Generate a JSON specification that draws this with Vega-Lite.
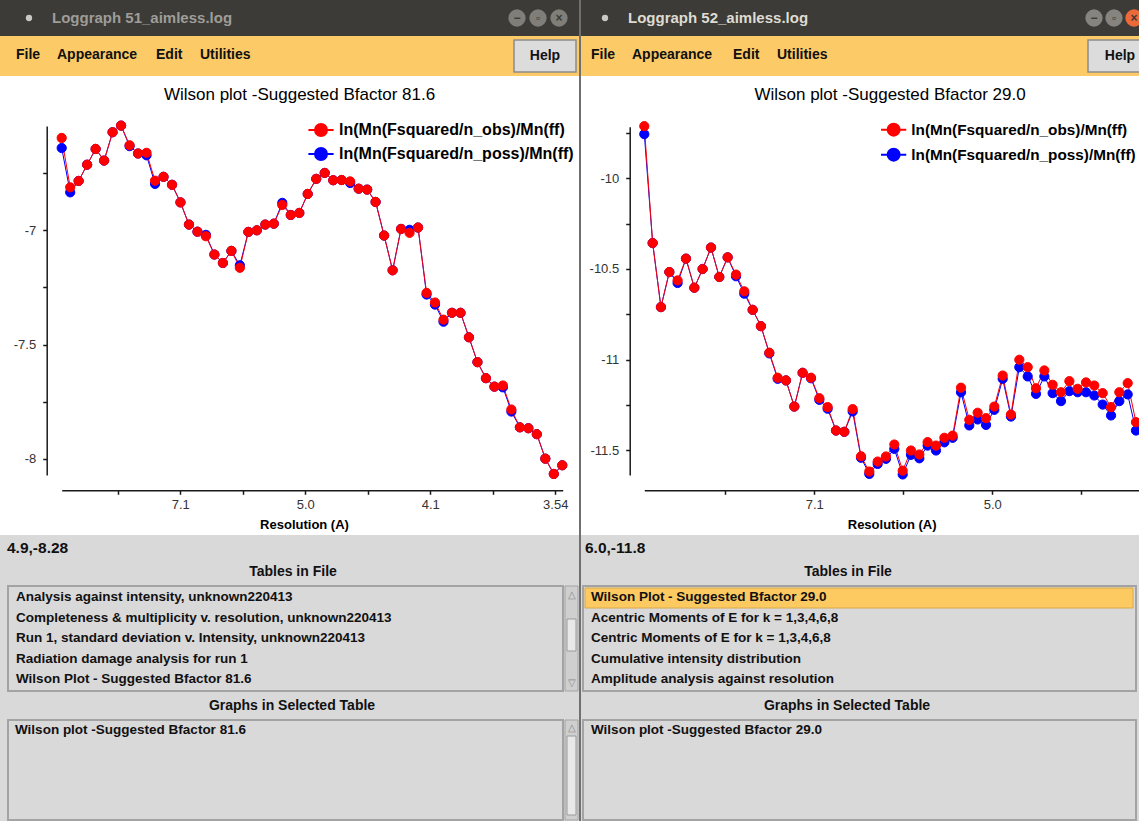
{
  "$schema": "https://vega.github.io/schema/vega-lite/v6.json",
  "padding": 0,
  "background": "#707070",
  "spacing": 2,
  "resolve": {"scale": {"color": "independent", "fill": "independent", "stroke": "independent"}, "legend": {"color": "independent", "fill": "independent", "stroke": "independent"}},
  "config": {
    "view": {"stroke": null},
    "font": "Liberation Sans",
    "axis": {"grid": false, "domainColor": "#1a1a1a", "domainWidth": 1.5, "tickColor": "#1a1a1a", "tickWidth": 1.5, "tickSize": 4, "labelFont": "Liberation Sans", "labelFontSize": 13, "labelColor": "#333333", "labelFlush": false, "labelOverlap": false, "titleFont": "Liberation Sans", "titleFontSize": 13, "titleFontWeight": "bold", "titleColor": "#000000"},
    "legend": {"title": null, "symbolType": "M-2.1,0L2.1,0M-1,0A1,1,0,1,1,1,0A1,1,0,1,1,-1,0Z", "symbolSize": 144, "symbolStrokeWidth": 2, "symbolOpacity": 1, "labelFontWeight": "bold", "labelFont": "Liberation Sans", "labelColor": "#000000", "labelLimit": 400, "labelOffset": 10, "rowPadding": 4, "padding": 0},
    "text": {"font": "Liberation Sans"}
  },
  "datasets": {
    "left": [
      {"x":0.00104,"y":-6.640,"s":"n_poss"},{"x":0.00240,"y":-6.834,"s":"n_poss"},{"x":0.00375,"y":-6.784,"s":"n_poss"},{"x":0.00511,"y":-6.713,"s":"n_poss"},{"x":0.00647,"y":-6.644,"s":"n_poss"},{"x":0.00783,"y":-6.695,"s":"n_poss"},{"x":0.00918,"y":-6.571,"s":"n_poss"},{"x":0.01054,"y":-6.542,"s":"n_poss"},{"x":0.01190,"y":-6.632,"s":"n_poss"},{"x":0.01326,"y":-6.664,"s":"n_poss"},
      {"x":0.01461,"y":-6.672,"s":"n_poss"},{"x":0.01597,"y":-6.797,"s":"n_poss"},{"x":0.01733,"y":-6.766,"s":"n_poss"},{"x":0.01869,"y":-6.801,"s":"n_poss"},{"x":0.02004,"y":-6.878,"s":"n_poss"},{"x":0.02140,"y":-6.975,"s":"n_poss"},{"x":0.02276,"y":-7.006,"s":"n_poss"},{"x":0.02411,"y":-7.020,"s":"n_poss"},{"x":0.02547,"y":-7.106,"s":"n_poss"},{"x":0.02683,"y":-7.143,"s":"n_poss"},
      {"x":0.02819,"y":-7.090,"s":"n_poss"},{"x":0.02954,"y":-7.153,"s":"n_poss"},{"x":0.03090,"y":-7.007,"s":"n_poss"},{"x":0.03226,"y":-7.000,"s":"n_poss"},{"x":0.03362,"y":-6.975,"s":"n_poss"},{"x":0.03497,"y":-6.971,"s":"n_poss"},{"x":0.03633,"y":-6.880,"s":"n_poss"},{"x":0.03769,"y":-6.933,"s":"n_poss"},{"x":0.03905,"y":-6.924,"s":"n_poss"},{"x":0.04040,"y":-6.841,"s":"n_poss"},
      {"x":0.04176,"y":-6.775,"s":"n_poss"},{"x":0.04312,"y":-6.749,"s":"n_poss"},{"x":0.04448,"y":-6.781,"s":"n_poss"},{"x":0.04583,"y":-6.780,"s":"n_poss"},{"x":0.04719,"y":-6.793,"s":"n_poss"},{"x":0.04855,"y":-6.818,"s":"n_poss"},{"x":0.04991,"y":-6.822,"s":"n_poss"},{"x":0.05126,"y":-6.876,"s":"n_poss"},{"x":0.05262,"y":-7.023,"s":"n_poss"},{"x":0.05398,"y":-7.175,"s":"n_poss"},
      {"x":0.05533,"y":-6.994,"s":"n_poss"},{"x":0.05669,"y":-6.998,"s":"n_poss"},{"x":0.05805,"y":-6.988,"s":"n_poss"},{"x":0.05941,"y":-7.281,"s":"n_poss"},{"x":0.06076,"y":-7.325,"s":"n_poss"},{"x":0.06212,"y":-7.400,"s":"n_poss"},{"x":0.06348,"y":-7.361,"s":"n_poss"},{"x":0.06484,"y":-7.361,"s":"n_poss"},{"x":0.06619,"y":-7.468,"s":"n_poss"},{"x":0.06755,"y":-7.577,"s":"n_poss"},
      {"x":0.06891,"y":-7.647,"s":"n_poss"},{"x":0.07027,"y":-7.684,"s":"n_poss"},{"x":0.07162,"y":-7.687,"s":"n_poss"},{"x":0.07298,"y":-7.793,"s":"n_poss"},{"x":0.07434,"y":-7.862,"s":"n_poss"},{"x":0.07570,"y":-7.866,"s":"n_poss"},{"x":0.07705,"y":-7.892,"s":"n_poss"},{"x":0.07841,"y":-7.999,"s":"n_poss"},{"x":0.07977,"y":-8.066,"s":"n_poss"},{"x":0.08112,"y":-8.028,"s":"n_poss"},
      {"x":0.00104,"y":-6.596,"s":"n_obs"},{"x":0.00240,"y":-6.812,"s":"n_obs"},{"x":0.00375,"y":-6.784,"s":"n_obs"},{"x":0.00511,"y":-6.713,"s":"n_obs"},{"x":0.00647,"y":-6.644,"s":"n_obs"},{"x":0.00783,"y":-6.695,"s":"n_obs"},{"x":0.00918,"y":-6.571,"s":"n_obs"},{"x":0.01054,"y":-6.542,"s":"n_obs"},{"x":0.01190,"y":-6.628,"s":"n_obs"},{"x":0.01326,"y":-6.664,"s":"n_obs"},
      {"x":0.01461,"y":-6.661,"s":"n_obs"},{"x":0.01597,"y":-6.783,"s":"n_obs"},{"x":0.01733,"y":-6.766,"s":"n_obs"},{"x":0.01869,"y":-6.801,"s":"n_obs"},{"x":0.02004,"y":-6.878,"s":"n_obs"},{"x":0.02140,"y":-6.975,"s":"n_obs"},{"x":0.02276,"y":-7.006,"s":"n_obs"},{"x":0.02411,"y":-7.026,"s":"n_obs"},{"x":0.02547,"y":-7.106,"s":"n_obs"},{"x":0.02683,"y":-7.143,"s":"n_obs"},
      {"x":0.02819,"y":-7.090,"s":"n_obs"},{"x":0.02954,"y":-7.164,"s":"n_obs"},{"x":0.03090,"y":-7.007,"s":"n_obs"},{"x":0.03226,"y":-7.000,"s":"n_obs"},{"x":0.03362,"y":-6.975,"s":"n_obs"},{"x":0.03497,"y":-6.971,"s":"n_obs"},{"x":0.03633,"y":-6.889,"s":"n_obs"},{"x":0.03769,"y":-6.933,"s":"n_obs"},{"x":0.03905,"y":-6.924,"s":"n_obs"},{"x":0.04040,"y":-6.841,"s":"n_obs"},
      {"x":0.04176,"y":-6.775,"s":"n_obs"},{"x":0.04312,"y":-6.749,"s":"n_obs"},{"x":0.04448,"y":-6.781,"s":"n_obs"},{"x":0.04583,"y":-6.780,"s":"n_obs"},{"x":0.04719,"y":-6.786,"s":"n_obs"},{"x":0.04855,"y":-6.818,"s":"n_obs"},{"x":0.04991,"y":-6.822,"s":"n_obs"},{"x":0.05126,"y":-6.876,"s":"n_obs"},{"x":0.05262,"y":-7.023,"s":"n_obs"},{"x":0.05398,"y":-7.175,"s":"n_obs"},
      {"x":0.05533,"y":-6.994,"s":"n_obs"},{"x":0.05669,"y":-7.011,"s":"n_obs"},{"x":0.05805,"y":-6.988,"s":"n_obs"},{"x":0.05941,"y":-7.274,"s":"n_obs"},{"x":0.06076,"y":-7.316,"s":"n_obs"},{"x":0.06212,"y":-7.391,"s":"n_obs"},{"x":0.06348,"y":-7.361,"s":"n_obs"},{"x":0.06484,"y":-7.361,"s":"n_obs"},{"x":0.06619,"y":-7.468,"s":"n_obs"},{"x":0.06755,"y":-7.577,"s":"n_obs"},
      {"x":0.06891,"y":-7.647,"s":"n_obs"},{"x":0.07027,"y":-7.684,"s":"n_obs"},{"x":0.07162,"y":-7.679,"s":"n_obs"},{"x":0.07298,"y":-7.784,"s":"n_obs"},{"x":0.07434,"y":-7.862,"s":"n_obs"},{"x":0.07570,"y":-7.866,"s":"n_obs"},{"x":0.07705,"y":-7.892,"s":"n_obs"},{"x":0.07841,"y":-7.999,"s":"n_obs"},{"x":0.07977,"y":-8.066,"s":"n_obs"},{"x":0.08112,"y":-8.028,"s":"n_obs"}
    ],
    "right": [
      {"x":0.00092,"y":-9.757,"s":"n_poss"},{"x":0.00186,"y":-10.357,"s":"n_poss"},{"x":0.00279,"y":-10.710,"s":"n_poss"},{"x":0.00373,"y":-10.517,"s":"n_poss"},{"x":0.00466,"y":-10.577,"s":"n_poss"},{"x":0.00560,"y":-10.443,"s":"n_poss"},{"x":0.00654,"y":-10.603,"s":"n_poss"},{"x":0.00747,"y":-10.500,"s":"n_poss"},{"x":0.00841,"y":-10.382,"s":"n_poss"},{"x":0.00934,"y":-10.544,"s":"n_poss"},
      {"x":0.01028,"y":-10.436,"s":"n_poss"},{"x":0.01122,"y":-10.540,"s":"n_poss"},{"x":0.01215,"y":-10.636,"s":"n_poss"},{"x":0.01309,"y":-10.725,"s":"n_poss"},{"x":0.01402,"y":-10.815,"s":"n_poss"},{"x":0.01496,"y":-10.965,"s":"n_poss"},{"x":0.01590,"y":-11.105,"s":"n_poss"},{"x":0.01683,"y":-11.114,"s":"n_poss"},{"x":0.01777,"y":-11.258,"s":"n_poss"},{"x":0.01870,"y":-11.072,"s":"n_poss"},
      {"x":0.01964,"y":-11.102,"s":"n_poss"},{"x":0.02058,"y":-11.221,"s":"n_poss"},{"x":0.02151,"y":-11.270,"s":"n_poss"},{"x":0.02245,"y":-11.390,"s":"n_poss"},{"x":0.02338,"y":-11.397,"s":"n_poss"},{"x":0.02432,"y":-11.285,"s":"n_poss"},{"x":0.02526,"y":-11.540,"s":"n_poss"},{"x":0.02619,"y":-11.629,"s":"n_poss"},{"x":0.02713,"y":-11.574,"s":"n_poss"},{"x":0.02806,"y":-11.546,"s":"n_poss"},
      {"x":0.02900,"y":-11.491,"s":"n_poss"},{"x":0.02994,"y":-11.632,"s":"n_poss"},{"x":0.03087,"y":-11.524,"s":"n_poss"},{"x":0.03181,"y":-11.543,"s":"n_poss"},{"x":0.03274,"y":-11.473,"s":"n_poss"},{"x":0.03368,"y":-11.500,"s":"n_poss"},{"x":0.03462,"y":-11.455,"s":"n_poss"},{"x":0.03555,"y":-11.430,"s":"n_poss"},{"x":0.03649,"y":-11.179,"s":"n_poss"},{"x":0.03742,"y":-11.362,"s":"n_poss"},
      {"x":0.03836,"y":-11.329,"s":"n_poss"},{"x":0.03930,"y":-11.359,"s":"n_poss"},{"x":0.04023,"y":-11.276,"s":"n_poss"},{"x":0.04117,"y":-11.105,"s":"n_poss"},{"x":0.04210,"y":-11.313,"s":"n_poss"},{"x":0.04304,"y":-11.041,"s":"n_poss"},{"x":0.04398,"y":-11.092,"s":"n_poss"},{"x":0.04491,"y":-11.188,"s":"n_poss"},{"x":0.04585,"y":-11.092,"s":"n_poss"},{"x":0.04678,"y":-11.184,"s":"n_poss"},
      {"x":0.04772,"y":-11.228,"s":"n_poss"},{"x":0.04866,"y":-11.173,"s":"n_poss"},{"x":0.04959,"y":-11.179,"s":"n_poss"},{"x":0.05053,"y":-11.179,"s":"n_poss"},{"x":0.05146,"y":-11.197,"s":"n_poss"},{"x":0.05240,"y":-11.247,"s":"n_poss"},{"x":0.05334,"y":-11.307,"s":"n_poss"},{"x":0.05427,"y":-11.228,"s":"n_poss"},{"x":0.05521,"y":-11.191,"s":"n_poss"},{"x":0.05614,"y":-11.390,"s":"n_poss"},
      {"x":0.00092,"y":-9.713,"s":"n_obs"},{"x":0.00186,"y":-10.357,"s":"n_obs"},{"x":0.00279,"y":-10.710,"s":"n_obs"},{"x":0.00373,"y":-10.517,"s":"n_obs"},{"x":0.00466,"y":-10.563,"s":"n_obs"},{"x":0.00560,"y":-10.443,"s":"n_obs"},{"x":0.00654,"y":-10.603,"s":"n_obs"},{"x":0.00747,"y":-10.500,"s":"n_obs"},{"x":0.00841,"y":-10.382,"s":"n_obs"},{"x":0.00934,"y":-10.544,"s":"n_obs"},
      {"x":0.01028,"y":-10.436,"s":"n_obs"},{"x":0.01122,"y":-10.531,"s":"n_obs"},{"x":0.01215,"y":-10.623,"s":"n_obs"},{"x":0.01309,"y":-10.725,"s":"n_obs"},{"x":0.01402,"y":-10.815,"s":"n_obs"},{"x":0.01496,"y":-10.961,"s":"n_obs"},{"x":0.01590,"y":-11.099,"s":"n_obs"},{"x":0.01683,"y":-11.114,"s":"n_obs"},{"x":0.01777,"y":-11.258,"s":"n_obs"},{"x":0.01870,"y":-11.072,"s":"n_obs"},
      {"x":0.01964,"y":-11.099,"s":"n_obs"},{"x":0.02058,"y":-11.212,"s":"n_obs"},{"x":0.02151,"y":-11.261,"s":"n_obs"},{"x":0.02245,"y":-11.390,"s":"n_obs"},{"x":0.02338,"y":-11.397,"s":"n_obs"},{"x":0.02432,"y":-11.272,"s":"n_obs"},{"x":0.02526,"y":-11.532,"s":"n_obs"},{"x":0.02619,"y":-11.616,"s":"n_obs"},{"x":0.02713,"y":-11.561,"s":"n_obs"},{"x":0.02806,"y":-11.533,"s":"n_obs"},
      {"x":0.02900,"y":-11.467,"s":"n_obs"},{"x":0.02994,"y":-11.611,"s":"n_obs"},{"x":0.03087,"y":-11.500,"s":"n_obs"},{"x":0.03181,"y":-11.522,"s":"n_obs"},{"x":0.03274,"y":-11.454,"s":"n_obs"},{"x":0.03368,"y":-11.473,"s":"n_obs"},{"x":0.03462,"y":-11.430,"s":"n_obs"},{"x":0.03555,"y":-11.418,"s":"n_obs"},{"x":0.03649,"y":-11.154,"s":"n_obs"},{"x":0.03742,"y":-11.331,"s":"n_obs"},
      {"x":0.03836,"y":-11.292,"s":"n_obs"},{"x":0.03930,"y":-11.322,"s":"n_obs"},{"x":0.04023,"y":-11.258,"s":"n_obs"},{"x":0.04117,"y":-11.087,"s":"n_obs"},{"x":0.04210,"y":-11.302,"s":"n_obs"},{"x":0.04304,"y":-11.000,"s":"n_obs"},{"x":0.04398,"y":-11.041,"s":"n_obs"},{"x":0.04491,"y":-11.157,"s":"n_obs"},{"x":0.04585,"y":-11.059,"s":"n_obs"},{"x":0.04678,"y":-11.138,"s":"n_obs"},
      {"x":0.04772,"y":-11.179,"s":"n_obs"},{"x":0.04866,"y":-11.118,"s":"n_obs"},{"x":0.04959,"y":-11.160,"s":"n_obs"},{"x":0.05053,"y":-11.125,"s":"n_obs"},{"x":0.05146,"y":-11.142,"s":"n_obs"},{"x":0.05240,"y":-11.184,"s":"n_obs"},{"x":0.05334,"y":-11.261,"s":"n_obs"},{"x":0.05427,"y":-11.179,"s":"n_obs"},{"x":0.05521,"y":-11.129,"s":"n_obs"},{"x":0.05614,"y":-11.344,"s":"n_obs"}
    ]
  },
  "hconcat": [
    {
      "spacing": 0,
      "resolve": {"scale": {"color": "independent", "fill": "independent", "stroke": "independent"}, "legend": {"color": "independent", "fill": "independent", "stroke": "independent"}},
      "vconcat": [
        {
          "width": 579, "height": 36,
          "view": {"fill": "#3c3b37", "stroke": null},
          "layer": [
            {"data": {"values": [{"t": "Loggraph 51_aimless.log"}]}, "mark": {"type": "text", "align": "left", "baseline": "middle", "fontWeight": "bold", "fontSize": 15, "color": "#9e9d98"}, "encoding": {"x": {"value": 52}, "y": {"value": 18}, "text": {"field": "t"}}},
            {"data": {"values": [{"t": "icon"}]}, "mark": {"type": "circle", "size": 40, "color": "#c9c8c3", "opacity": 1}, "encoding": {"x": {"value": 29}, "y": {"value": 18}}},
            {"data": {"values": [{"b": "min", "g": "−"}, {"b": "max", "g": "▫"}, {"b": "close", "g": "×"}]},
             "layer": [
               {"mark": {"type": "circle", "size": 300, "opacity": 1, "clip": true, "color": "#7f7e79"}, "encoding": {"x": {"field": "b", "type": "nominal", "scale": {"type": "point", "domain": ["min", "max", "close"], "range": [517, 559], "padding": 0}, "axis": null}, "y": {"value": 18}}},
               {"mark": {"type": "text", "fontSize": 12, "fontWeight": "bold", "color": "#3c3b37", "baseline": "middle"}, "encoding": {"x": {"field": "b", "type": "nominal", "scale": {"type": "point", "domain": ["min", "max", "close"], "range": [517, 559], "padding": 0}, "axis": null}, "y": {"value": 18}, "text": {"field": "g"}}}
             ]}
          ]
        },
        {
          "width": 579, "height": 40,
          "view": {"fill": "#fcca66", "stroke": null},
          "layer": [
            {"data": {"values": [{"t": "File"}]}, "mark": {"type": "text", "align": "left", "baseline": "middle", "fontWeight": "bold", "fontSize": 14, "color": "#111111"}, "encoding": {"x": {"value": 16}, "y": {"value": 19}, "text": {"field": "t"}}},
            {"data": {"values": [{"t": "Appearance"}]}, "mark": {"type": "text", "align": "left", "baseline": "middle", "fontWeight": "bold", "fontSize": 14, "color": "#111111"}, "encoding": {"x": {"value": 57}, "y": {"value": 19}, "text": {"field": "t"}}},
            {"data": {"values": [{"t": "Edit"}]}, "mark": {"type": "text", "align": "left", "baseline": "middle", "fontWeight": "bold", "fontSize": 14, "color": "#111111"}, "encoding": {"x": {"value": 156}, "y": {"value": 19}, "text": {"field": "t"}}},
            {"data": {"values": [{"t": "Utilities"}]}, "mark": {"type": "text", "align": "left", "baseline": "middle", "fontWeight": "bold", "fontSize": 14, "color": "#111111"}, "encoding": {"x": {"value": 200}, "y": {"value": 19}, "text": {"field": "t"}}},
            {"data": {"values": [{"t": "Help"}]}, "mark": {"type": "rect", "fill": "#dcdcdc", "stroke": "#8c8c8c", "strokeWidth": 1.5}, "encoding": {"x": {"value": 514}, "x2": {"value": 576}, "y": {"value": 4}, "y2": {"value": 36}}},
            {"data": {"values": [{"t": "Help"}]}, "mark": {"type": "text", "align": "center", "baseline": "middle", "fontWeight": "bold", "fontSize": 14, "color": "#111111"}, "encoding": {"x": {"value": 545}, "y": {"value": 20}, "text": {"field": "t"}}}
          ]
        },
        {
          "width": 579, "height": 459,
          "view": {"fill": "#ffffff", "stroke": null},
          "title": {"text": "Wilson plot -Suggested Bfactor 81.6", "offset": -28, "dx": 10, "fontSize": 17, "fontWeight": "normal", "color": "#000000", "font": "Liberation Sans"},
          "data": {"name": "left"},
          "encoding": {
            "x": {"field": "x", "type": "quantitative", "scale": {"domain": [0.00104, 0.08119], "range": [61.7, 562.7], "nice": false, "zero": false},
                  "axis": {"values": [0.01, 0.02, 0.03, 0.04, 0.05, 0.06, 0.07, 0.08], "labelExpr": "datum.value == 0.02 ? '7.1' : datum.value == 0.04 ? '5.0' : datum.value == 0.06 ? '4.1' : datum.value == 0.08 ? '3.54' : ''", "title": "Resolution (A)", "titleX": 304, "offset": -44.7, "labelPadding": 4, "titlePadding": 7}},
            "y": {"field": "y", "type": "quantitative", "scale": {"domain": [-8.0706, -6.5437], "range": [399, 50], "nice": false, "zero": false},
                  "axis": {"values": [-6.75, -7, -7.25, -7.5, -7.75, -8], "labelExpr": "datum.value % 0.5 == 0 ? '' + datum.value : ''", "title": null, "offset": -46.7, "labelPadding": 7}}
          },
          "layer": [
            {"mark": {"type": "line", "strokeWidth": 1, "clip": true},
             "encoding": {"stroke": {"field": "s", "type": "nominal", "scale": {"domain": ["n_obs", "n_poss"], "range": ["#ff0000", "#0000ff"]},
               "legend": {"orient": "none", "legendX": 313, "legendY": 46, "labelFontSize": 16, "symbolType": "M-2.1,0L2.1,0M-1,0A1,1,0,1,1,1,0A1,1,0,1,1,-1,0Z", "labelExpr": "'ln(Mn(Fsquared/' + datum.label + ')/Mn(ff)'"}}}},
            {"mark": {"type": "point", "filled": true, "size": 85, "strokeWidth": 1, "opacity": 1, "clip": true},
             "encoding": {
               "fill": {"field": "s", "type": "nominal", "scale": {"domain": ["n_obs", "n_poss"], "range": ["#ff0000", "#0000ff"]},
                 "legend": {"orient": "none", "legendX": 313, "legendY": 46, "labelFontSize": 16, "symbolType": "M-2.1,0L2.1,0M-1,0A1,1,0,1,1,1,0A1,1,0,1,1,-1,0Z", "labelExpr": "'ln(Mn(Fsquared/' + datum.label + ')/Mn(ff)'"}},
               "stroke": {"field": "s", "type": "nominal", "scale": {"domain": ["n_obs", "n_poss"], "range": ["#ff0000", "#0000ff"]},
                 "legend": {"orient": "none", "legendX": 313, "legendY": 46, "labelFontSize": 16, "symbolType": "M-2.1,0L2.1,0M-1,0A1,1,0,1,1,1,0A1,1,0,1,1,-1,0Z", "labelExpr": "'ln(Mn(Fsquared/' + datum.label + ')/Mn(ff)'"}}
             }}
          ]
        },
        {
          "width": 579, "height": 25,
          "view": {"fill": "#d9d9d9", "stroke": null},
          "data": {"values": [{"t": "4.9,-8.28"}]},
          "mark": {"type": "text", "align": "left", "baseline": "middle", "fontWeight": "bold", "fontSize": 15.5, "color": "#111111"},
          "encoding": {"x": {"value": 7}, "y": {"value": 13}, "text": {"field": "t"}}
        },
        {
          "width": 579, "height": 25,
          "view": {"fill": "#d9d9d9", "stroke": null},
          "data": {"values": [{"t": "Tables in File"}]},
          "mark": {"type": "text", "align": "center", "baseline": "middle", "fontWeight": "bold", "fontSize": 14, "color": "#111111"},
          "encoding": {"x": {"value": 293}, "y": {"value": 12}, "text": {"field": "t"}}
        },
        {
          "width": 579, "height": 108,
          "view": {"fill": "#d9d9d9", "stroke": null},
          "layer": [
            {"data": {"values": [{"t": "box"}]}, "mark": {"type": "rect", "fill": "#d9d9d9", "stroke": "#a3a3a3", "strokeWidth": 2}, "encoding": {"x": {"value": 8}, "x2": {"value": 563}, "y": {"value": 1}, "y2": {"value": 106}}},
            {"data": {"values": [{"t": "scroll"}]}, "mark": {"type": "rect", "fill": "#cfcfcf", "stroke": "#a3a3a3", "strokeWidth": 1}, "encoding": {"x": {"value": 565}, "x2": {"value": 578}, "y": {"value": 1}, "y2": {"value": 106}}},
            {"data": {"values": [{"t": "thumb"}]}, "mark": {"type": "rect", "fill": "#e8e8e8", "stroke": "#9a9a9a", "strokeWidth": 1}, "encoding": {"x": {"value": 567}, "x2": {"value": 576}, "y": {"value": 34}, "y2": {"value": 66}}},
            {"data": {"values": [{"g": "△"}]}, "mark": {"type": "text", "align": "center", "baseline": "middle", "fontSize": 10, "color": "#8a8a8a"}, "encoding": {"x": {"value": 571.5}, "y": {"value": 10}, "text": {"field": "g"}}},
            {"data": {"values": [{"g": "▽"}]}, "mark": {"type": "text", "align": "center", "baseline": "middle", "fontSize": 10, "color": "#8a8a8a"}, "encoding": {"x": {"value": 571.5}, "y": {"value": 98}, "text": {"field": "g"}}},
            {"data": {"values": [{"t": "Analysis against intensity, unknown220413"}, {"t": "Completeness & multiplicity v. resolution, unknown220413"}, {"t": "Run   1, standard deviation v. Intensity, unknown220413"}, {"t": "Radiation damage analysis for run   1"}, {"t": "Wilson Plot - Suggested Bfactor 81.6"}]},
             "mark": {"type": "text", "align": "left", "baseline": "middle", "fontWeight": "bold", "fontSize": 13.5, "color": "#111111"},
             "encoding": {"x": {"value": 16}, "y": {"field": "t", "type": "nominal", "sort": null, "scale": {"type": "point", "range": [12, 94], "padding": 0}, "axis": null}, "text": {"field": "t"}}}
          ]
        },
        {
          "width": 579, "height": 26,
          "view": {"fill": "#d9d9d9", "stroke": null},
          "data": {"values": [{"t": "Graphs in Selected Table"}]},
          "mark": {"type": "text", "align": "center", "baseline": "middle", "fontWeight": "bold", "fontSize": 14, "color": "#111111"},
          "encoding": {"x": {"value": 292}, "y": {"value": 13}, "text": {"field": "t"}}
        },
        {
          "width": 579, "height": 102,
          "view": {"fill": "#d9d9d9", "stroke": null},
          "layer": [
            {"data": {"values": [{"t": "box"}]}, "mark": {"type": "rect", "fill": "#d9d9d9", "stroke": "#a3a3a3", "strokeWidth": 2}, "encoding": {"x": {"value": 8}, "x2": {"value": 563}, "y": {"value": 1}, "y2": {"value": 101}}},
            {"data": {"values": [{"t": "scroll"}]}, "mark": {"type": "rect", "fill": "#cfcfcf", "stroke": "#a3a3a3", "strokeWidth": 1}, "encoding": {"x": {"value": 565}, "x2": {"value": 578}, "y": {"value": 1}, "y2": {"value": 101}}},
            {"data": {"values": [{"t": "thumb"}]}, "mark": {"type": "rect", "fill": "#e8e8e8", "stroke": "#9a9a9a", "strokeWidth": 1}, "encoding": {"x": {"value": 567}, "x2": {"value": 576}, "y": {"value": 17}, "y2": {"value": 96}}},
            {"data": {"values": [{"g": "△"}]}, "mark": {"type": "text", "align": "center", "baseline": "middle", "fontSize": 10, "color": "#8a8a8a"}, "encoding": {"x": {"value": 571.5}, "y": {"value": 9}, "text": {"field": "g"}}},
            {"data": {"values": [{"t": "Wilson plot -Suggested Bfactor 81.6"}]}, "mark": {"type": "text", "align": "left", "baseline": "middle", "fontWeight": "bold", "fontSize": 13.5, "color": "#111111"}, "encoding": {"x": {"value": 15}, "y": {"value": 11}, "text": {"field": "t"}}}
          ]
        }
      ]
    },
    {
      "spacing": 0,
      "resolve": {"scale": {"color": "independent", "fill": "independent", "stroke": "independent"}, "legend": {"color": "independent", "fill": "independent", "stroke": "independent"}},
      "vconcat": [
        {
          "width": 558, "height": 36,
          "view": {"fill": "#3c3b37", "stroke": null},
          "layer": [
            {"data": {"values": [{"t": "Loggraph 52_aimless.log"}]}, "mark": {"type": "text", "align": "left", "baseline": "middle", "fontWeight": "bold", "fontSize": 15, "color": "#dfdbd2"}, "encoding": {"x": {"value": 47}, "y": {"value": 18}, "text": {"field": "t"}}},
            {"data": {"values": [{"t": "icon"}]}, "mark": {"type": "circle", "size": 40, "color": "#c9c8c3", "opacity": 1}, "encoding": {"x": {"value": 24}, "y": {"value": 18}}},
            {"data": {"values": [{"b": "min", "g": "−"}, {"b": "max", "g": "▫"}, {"b": "close", "g": "×"}]},
             "layer": [
               {"mark": {"type": "circle", "size": 300, "opacity": 1, "clip": true}, "encoding": {"x": {"field": "b", "type": "nominal", "scale": {"type": "point", "domain": ["min", "max", "close"], "range": [513, 553], "padding": 0}, "axis": null}, "y": {"value": 18}, "color": {"field": "b", "type": "nominal", "scale": {"domain": ["min", "max", "close"], "range": ["#85847e", "#85847e", "#ec6a3a"]}, "legend": null}}},
               {"mark": {"type": "text", "fontSize": 12, "fontWeight": "bold", "color": "#3c3b37", "baseline": "middle", "clip": true}, "encoding": {"x": {"field": "b", "type": "nominal", "scale": {"type": "point", "domain": ["min", "max", "close"], "range": [513, 553], "padding": 0}, "axis": null}, "y": {"value": 18}, "text": {"field": "g"}}}
             ]}
          ]
        },
        {
          "width": 558, "height": 40,
          "view": {"fill": "#fcca66", "stroke": null},
          "layer": [
            {"data": {"values": [{"t": "File"}]}, "mark": {"type": "text", "align": "left", "baseline": "middle", "fontWeight": "bold", "fontSize": 14, "color": "#111111"}, "encoding": {"x": {"value": 10}, "y": {"value": 19}, "text": {"field": "t"}}},
            {"data": {"values": [{"t": "Appearance"}]}, "mark": {"type": "text", "align": "left", "baseline": "middle", "fontWeight": "bold", "fontSize": 14, "color": "#111111"}, "encoding": {"x": {"value": 51}, "y": {"value": 19}, "text": {"field": "t"}}},
            {"data": {"values": [{"t": "Edit"}]}, "mark": {"type": "text", "align": "left", "baseline": "middle", "fontWeight": "bold", "fontSize": 14, "color": "#111111"}, "encoding": {"x": {"value": 152}, "y": {"value": 19}, "text": {"field": "t"}}},
            {"data": {"values": [{"t": "Utilities"}]}, "mark": {"type": "text", "align": "left", "baseline": "middle", "fontWeight": "bold", "fontSize": 14, "color": "#111111"}, "encoding": {"x": {"value": 196}, "y": {"value": 19}, "text": {"field": "t"}}},
            {"data": {"values": [{"t": "Help"}]}, "mark": {"type": "rect", "fill": "#dcdcdc", "stroke": "#8c8c8c", "strokeWidth": 1.5, "clip": true}, "encoding": {"x": {"value": 507}, "x2": {"value": 570}, "y": {"value": 4}, "y2": {"value": 36}}},
            {"data": {"values": [{"t": "Help"}]}, "mark": {"type": "text", "align": "center", "baseline": "middle", "fontWeight": "bold", "fontSize": 14, "color": "#111111"}, "encoding": {"x": {"value": 539}, "y": {"value": 20}, "text": {"field": "t"}}}
          ]
        },
        {
          "width": 558, "height": 459,
          "view": {"fill": "#ffffff", "stroke": null},
          "title": {"text": "Wilson plot -Suggested Bfactor 29.0", "offset": -28, "dx": 30, "fontSize": 17, "fontWeight": "normal", "color": "#000000", "font": "Liberation Sans"},
          "data": {"name": "right"},
          "encoding": {
            "x": {"field": "x", "type": "quantitative", "scale": {"domain": [0.00092, 0.05648], "range": [63.3, 558], "nice": false, "zero": false},
                  "axis": {"values": [0.01, 0.02, 0.03, 0.04, 0.05], "labelExpr": "datum.value == 0.02 ? '7.1' : datum.value == 0.04 ? '5.0' : ''", "title": "Resolution (A)", "offset": -44.7, "labelPadding": 4, "titlePadding": 7}},
            "y": {"field": "y", "type": "quantitative", "scale": {"domain": [-11.635, -9.716], "range": [399, 50.7], "nice": false, "zero": false},
                  "axis": {"values": [-9.75, -10, -10.25, -10.5, -10.75, -11, -11.25, -11.5], "labelExpr": "datum.value % 0.5 == 0 ? '' + datum.value : ''", "title": null, "offset": -48.7, "labelPadding": 7}}
          },
          "layer": [
            {"mark": {"type": "line", "strokeWidth": 1, "clip": true},
             "encoding": {"stroke": {"field": "s", "type": "nominal", "scale": {"domain": ["n_obs", "n_poss"], "range": ["#ff0000", "#0000ff"]},
               "legend": {"orient": "none", "legendX": 305, "legendY": 46, "labelFontSize": 15.3, "symbolType": "M-2.1,0L2.1,0M-1,0A1,1,0,1,1,1,0A1,1,0,1,1,-1,0Z", "labelExpr": "'ln(Mn(Fsquared/' + datum.label + ')/Mn(ff)'"}}}},
            {"mark": {"type": "point", "filled": true, "size": 85, "strokeWidth": 1, "opacity": 1, "clip": true},
             "encoding": {
               "fill": {"field": "s", "type": "nominal", "scale": {"domain": ["n_obs", "n_poss"], "range": ["#ff0000", "#0000ff"]},
                 "legend": {"orient": "none", "legendX": 305, "legendY": 46, "labelFontSize": 15.3, "symbolType": "M-2.1,0L2.1,0M-1,0A1,1,0,1,1,1,0A1,1,0,1,1,-1,0Z", "labelExpr": "'ln(Mn(Fsquared/' + datum.label + ')/Mn(ff)'"}},
               "stroke": {"field": "s", "type": "nominal", "scale": {"domain": ["n_obs", "n_poss"], "range": ["#ff0000", "#0000ff"]},
                 "legend": {"orient": "none", "legendX": 305, "legendY": 46, "labelFontSize": 15.3, "symbolType": "M-2.1,0L2.1,0M-1,0A1,1,0,1,1,1,0A1,1,0,1,1,-1,0Z", "labelExpr": "'ln(Mn(Fsquared/' + datum.label + ')/Mn(ff)'"}}
             }}
          ]
        },
        {
          "width": 558, "height": 25,
          "view": {"fill": "#d9d9d9", "stroke": null},
          "data": {"values": [{"t": "6.0,-11.8"}]},
          "mark": {"type": "text", "align": "left", "baseline": "middle", "fontWeight": "bold", "fontSize": 15.5, "color": "#111111"},
          "encoding": {"x": {"value": 4}, "y": {"value": 13}, "text": {"field": "t"}}
        },
        {
          "width": 558, "height": 25,
          "view": {"fill": "#d9d9d9", "stroke": null},
          "data": {"values": [{"t": "Tables in File"}]},
          "mark": {"type": "text", "align": "center", "baseline": "middle", "fontWeight": "bold", "fontSize": 14, "color": "#111111"},
          "encoding": {"x": {"value": 267}, "y": {"value": 12}, "text": {"field": "t"}}
        },
        {
          "width": 558, "height": 108,
          "view": {"fill": "#d9d9d9", "stroke": null},
          "layer": [
            {"data": {"values": [{"t": "box"}]}, "mark": {"type": "rect", "fill": "#d9d9d9", "stroke": "#a3a3a3", "strokeWidth": 2}, "encoding": {"x": {"value": 2}, "x2": {"value": 555}, "y": {"value": 1}, "y2": {"value": 106}}},
            {"data": {"values": [{"t": "selected"}]}, "mark": {"type": "rect", "fill": "#fdca62", "stroke": "#d8a849", "strokeWidth": 1}, "encoding": {"x": {"value": 4}, "x2": {"value": 552}, "y": {"value": 3}, "y2": {"value": 23}}},
            {"data": {"values": [{"t": "Wilson Plot - Suggested Bfactor 29.0"}, {"t": "Acentric Moments of E for k = 1,3,4,6,8"}, {"t": "Centric Moments of E for k = 1,3,4,6,8"}, {"t": "Cumulative intensity distribution"}, {"t": "Amplitude analysis against resolution"}]},
             "mark": {"type": "text", "align": "left", "baseline": "middle", "fontWeight": "bold", "fontSize": 13.5, "color": "#111111"},
             "encoding": {"x": {"value": 10}, "y": {"field": "t", "type": "nominal", "sort": null, "scale": {"type": "point", "range": [12, 94], "padding": 0}, "axis": null}, "text": {"field": "t"}}}
          ]
        },
        {
          "width": 558, "height": 26,
          "view": {"fill": "#d9d9d9", "stroke": null},
          "data": {"values": [{"t": "Graphs in Selected Table"}]},
          "mark": {"type": "text", "align": "center", "baseline": "middle", "fontWeight": "bold", "fontSize": 14, "color": "#111111"},
          "encoding": {"x": {"value": 266}, "y": {"value": 13}, "text": {"field": "t"}}
        },
        {
          "width": 558, "height": 102,
          "view": {"fill": "#d9d9d9", "stroke": null},
          "layer": [
            {"data": {"values": [{"t": "box"}]}, "mark": {"type": "rect", "fill": "#d9d9d9", "stroke": "#a3a3a3", "strokeWidth": 2}, "encoding": {"x": {"value": 2}, "x2": {"value": 555}, "y": {"value": 1}, "y2": {"value": 101}}},
            {"data": {"values": [{"t": "Wilson plot -Suggested Bfactor 29.0"}]}, "mark": {"type": "text", "align": "left", "baseline": "middle", "fontWeight": "bold", "fontSize": 13.5, "color": "#111111"}, "encoding": {"x": {"value": 10}, "y": {"value": 11}, "text": {"field": "t"}}}
          ]
        }
      ]
    }
  ]
}
